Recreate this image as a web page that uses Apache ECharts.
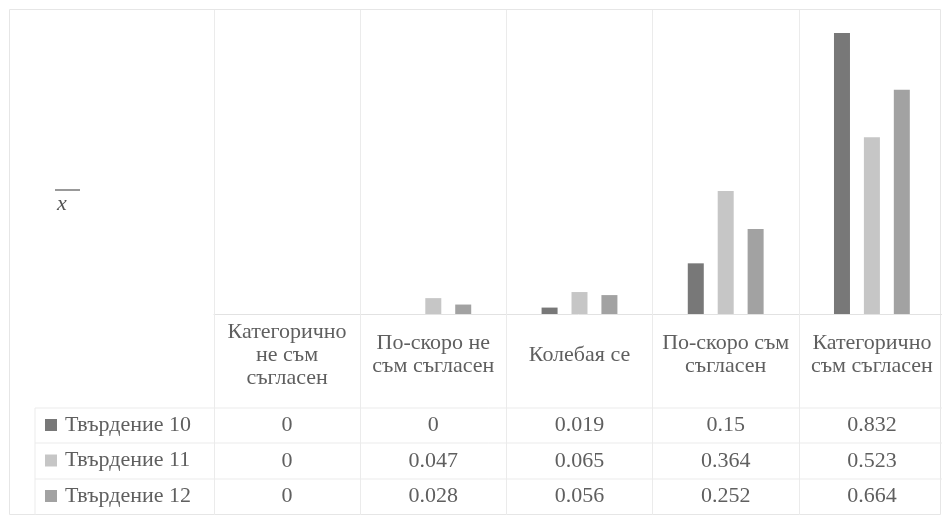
<!DOCTYPE html>
<html>
<head>
<meta charset="utf-8">
<script src="https://cdn.jsdelivr.net/npm/echarts@6/dist/echarts.min.js"></script>
<style>
html,body{margin:0;padding:0;background:#fff;}
#c{width:942px;height:516px;}
</style>
</head>
<body>
<div id="c"></div>
<script>
var categories = ['Категорично\nне съм\nсъгласен', 'По-скоро не\nсъм съгласен', 'Колебая се', 'По-скоро съм\nсъгласен', 'Категорично\nсъм съгласен'];
var seriesNames = ['Твърдение 10', 'Твърдение 11', 'Твърдение 12'];
var s10 = [0, 0, 0.019, 0.15, 0.832];
var s11 = [0, 0.047, 0.065, 0.364, 0.523];
var s12 = [0, 0.028, 0.056, 0.252, 0.664];
var allSeries = [s10, s11, s12];
var colors = ['#787878', '#c6c6c6', '#a2a2a2'];

var FONT = 'Liberation Serif';
var TXT = '#5f5f5f';
var LINE = '#ebebeb';
var baseY = 314;
var rowCenters = [425, 461, 496];

var chart = echarts.init(document.getElementById('c'));

var xAxes = [{
  type: 'category',
  data: categories,
  gridIndex: 0,
  position: 'bottom',
  axisLine: {show: true, lineStyle: {color: '#e2e2e2', width: 1}},
  axisTick: {show: true, length: 201, lineStyle: {color: LINE}},
  splitLine: {show: true, lineStyle: {color: LINE}},
  axisLabel: {
    fontFamily: FONT, fontSize: 22, color: TXT, lineHeight: 23,
    margin: 41, verticalAlign: 'middle', align: 'center', interval: 0
  }
}];
allSeries.forEach(function (arr, k) {
  xAxes.push({
    type: 'category',
    data: categories,
    gridIndex: 0,
    position: 'bottom',
    axisLine: {show: false},
    axisTick: {show: false},
    splitLine: {show: false},
    axisLabel: {
      fontFamily: FONT, fontSize: 22, color: TXT,
      margin: rowCenters[k] - baseY, verticalAlign: 'middle', interval: 0,
      formatter: function (v, i) { return String(arr[i]); }
    }
  });
});

var series = allSeries.map(function (arr, k) {
  return {
    name: seriesNames[k],
    type: 'bar',
    xAxisIndex: 0,
    data: arr,
    barWidth: 16,
    barGap: '87%',
    itemStyle: {color: colors[k]}
  };
});

var hLines = [408, 443, 479].map(function (y) {
  return {type: 'line', shape: {x1: 35, y1: y, x2: 942, y2: y}, style: {stroke: LINE, lineWidth: 1}, silent: true};
});

chart.setOption({
  animation: false,
  backgroundColor: '#fff',
  grid: {left: 214, right: -3, top: 10, height: baseY - 10, containLabel: false, outerBoundsMode: 'none'},
  xAxis: xAxes,
  yAxis: {
    type: 'value', min: 0, max: 0.9,
    axisLine: {show: false}, axisTick: {show: false}, axisLabel: {show: false}, splitLine: {show: false}
  },
  legend: {
    orient: 'vertical',
    left: 45,
    top: rowCenters[0] - 11,
    padding: 0,
    itemWidth: 12,
    itemHeight: 12,
    itemGap: 13.5,
    icon: 'rect',
    data: seriesNames,
    textStyle: {fontFamily: FONT, fontSize: 22, color: TXT, lineHeight: 22, padding: [0, 0, 0, 3]}
  },
  graphic: [
    {type: 'rect', shape: {x: 9.5, y: 9.5, width: 931, height: 505}, style: {fill: 'none', stroke: '#e6e6e6', lineWidth: 1}, silent: true, z: -1},
    {type: 'line', shape: {x1: 35, y1: 408, x2: 35, y2: 515}, style: {stroke: LINE, lineWidth: 1}, silent: true}
  ].concat(hLines).concat([
    {type: 'line', shape: {x1: 55, y1: 190, x2: 80, y2: 190}, style: {stroke: '#555', lineWidth: 1.2}, silent: true},
    {type: 'text', x: 57, y: 193, style: {text: 'x', font: 'italic 22px "Liberation Serif"', fill: '#555'}, silent: true}
  ]),
  series: series
});
</script>
</body>
</html>
